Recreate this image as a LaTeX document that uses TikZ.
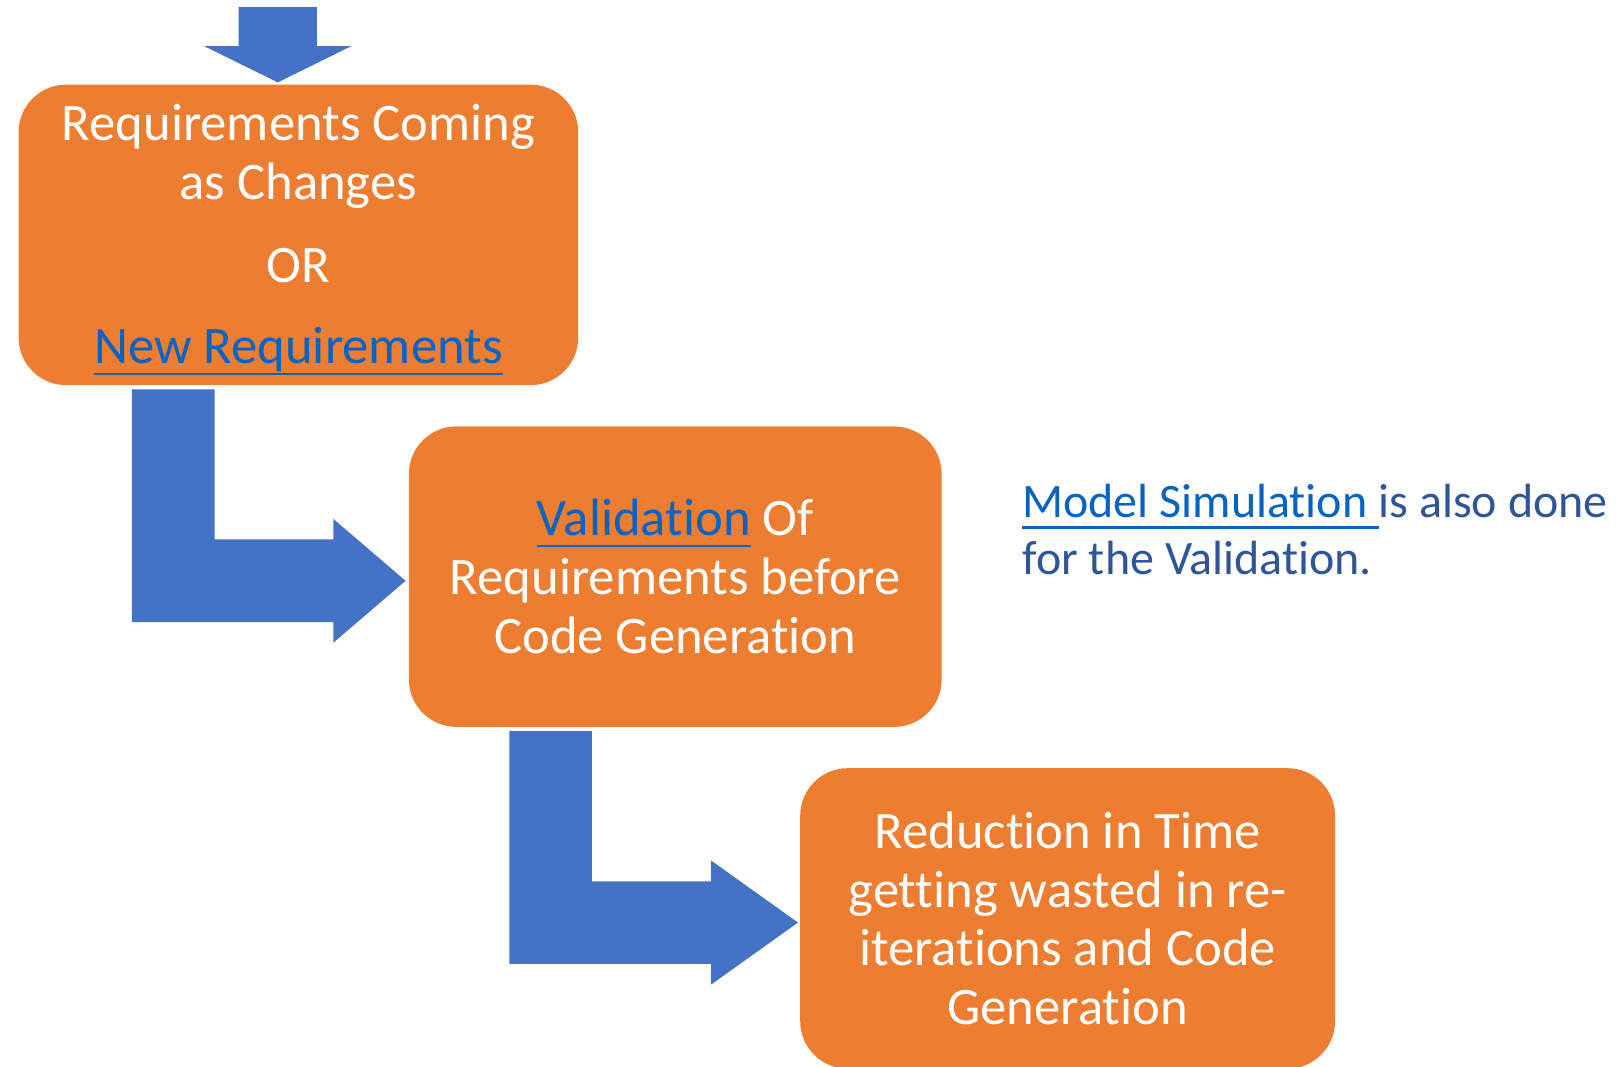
\documentclass[tikz,border=0pt]{standalone}
\usepackage{fontspec}
\setmainfont[Ligatures=NoCommon]{Carlito}
\usetikzlibrary{calc}

\definecolor{boxorange}{HTML}{ED7D31}
\definecolor{arrowblue}{HTML}{4472C4}
\definecolor{linkblue}{HTML}{0563C1}
\definecolor{notetext}{HTML}{2F5597}
\newsavebox{\linkbox}
\newcommand{\link}[1]{{\color{linkblue}\sbox{\linkbox}{#1}%
  \rlap{\rule[-11pt]{\wd\linkbox}{2.6pt}}\usebox{\linkbox}}}
% start of the shaft, tip of the head, head length
\newcommand{\bentarrow}[3]{%
  \fill[flow] let \p1=#1, \p2=#2 in
    (\x1-40,\y1) -- (\x1+40,\y1) -- (\x1+40,\y2+40) -- (\x2-#3,\y2+40)
    -- (\x2-#3,\y2+60) -- (\x2,\y2) -- (\x2-#3,\y2-60) -- (\x2-#3,\y2-40)
    -- (\x1-40,\y2-40) -- cycle;}

\begin{document}
\begin{tikzpicture}[
  x=1pt, y=1pt,
  box/.style={fill=boxorange, rounded corners=46pt, align=center, text=white,
    minimum height=291pt, inner sep=0pt, font=\fontsize{51}{57}\selectfont},
  flow/.style={fill=arrowblue},
  note/.style={align=left, anchor=north west, inner sep=0pt, text=notetext,
    font=\fontsize{46.5}{55}\selectfont}
]
\useasboundingbox (0,0) rectangle (1568,1033);
\node[box, minimum width=542pt] (req) at (289,805.5)
  {\rule{0pt}{45pt}Requirements Coming\\as Changes\\[23pt]OR\\[22pt]\link{New Requirements}};
\node[box, minimum width=516pt] (val) at (654,474.5)
  {\link{Validation} Of\\Requirements before\\Code Generation};
\node[box, minimum width=518pt] (red) at (1034,143.5)
  {Reduction in Time\\getting wasted in re-\\iterations and Code\\Generation};
\node[note] (sim) at (990,564)
  {\link{Model Simulation\ }is also done\\for the Validation.};
\coordinate (feed) at (269,1026);
\fill[flow] let \p1=(feed), \p2=($(req.north)+(-20,2)$) in
  (\x2-38,\y1) -- (\x2+38,\y1) -- (\x2+38,\y2+35) -- (\x2+71,\y2+35)
  -- (\x2,\y2) -- (\x2-71,\y2+35) -- (\x2-38,\y2+35) -- cycle;
\bentarrow{($(req.south west)+(150,-4)$)}{($(val.west)+(-3,-4)$)}{70}
\bentarrow{($(val.south west)+(137.5,-4)$)}{($(red.west)+(-2,-4)$)}{84}
\end{tikzpicture}
\end{document}
